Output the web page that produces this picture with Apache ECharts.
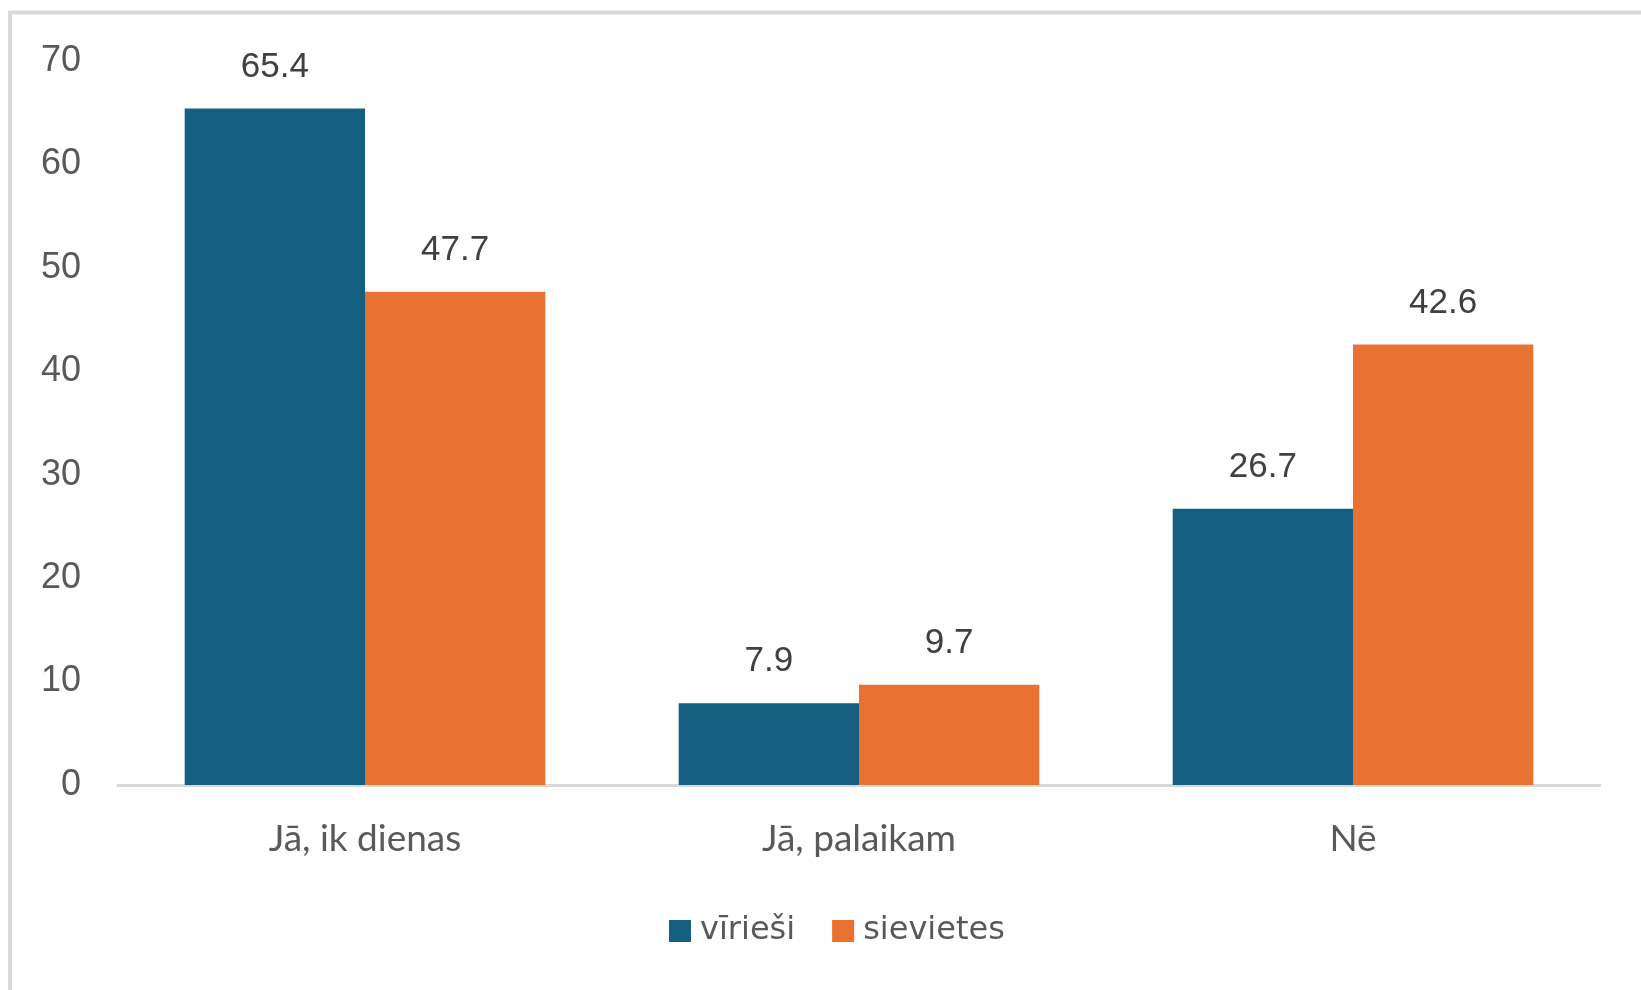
<!DOCTYPE html>
<html><head><meta charset="utf-8">
<script src="https://cdn.jsdelivr.net/npm/echarts@6/dist/echarts.min.js"></script>
<style>html,body{margin:0;padding:0;background:#fff}#c{width:1641px;height:990px}</style>
</head><body><div id="c"></div>
<script>
const categories = ['Jā, ik dienas', 'Jā, palaikam', 'Nē'];
const seriesNames = ['vīrieši', 'sievietes'];
const viriesi = [65.4, 7.9, 26.7];
const sievietes = [47.7, 9.7, 42.6];
const yTicks = [0, 10, 20, 30, 40, 50, 60, 70];

const chart = echarts.init(document.getElementById('c'), null, {renderer: 'canvas'});
const labelStyle = {show: true, position: 'top', distance: 24, color: '#404040', fontFamily: 'Liberation Sans', fontSize: 35, formatter: p => p.value.toFixed(1)};
chart.setOption({
  animation: false,
  backgroundColor: '#fff',
  graphic: [{type: 'rect', shape: {x: 10, y: 12.5, width: 1800, height: 1200}, style: {fill: 'none', stroke: '#d9d9d9', lineWidth: 4}, silent: true}],
  grid: {left: 118, right: 41, top: 61, bottom: 205},
  legend: {
    bottom: 38, left: 664, itemWidth: 22, itemHeight: 22, itemGap: 37,
    icon: 'rect',
    textStyle: {color: '#595959', fontFamily: 'DejaVu Sans', fontSize: 32, padding: [0, 0, 0, 4]},
    data: seriesNames
  },
  xAxis: {
    type: 'category', data: categories,
    axisLine: {lineStyle: {color: '#d9d9d9', width: 3}},
    axisTick: {show: false},
    axisLabel: {color: '#595959', fontFamily: 'Lato', fontSize: 37, margin: 36}
  },
  yAxis: {
    type: 'value', min: yTicks[0], max: yTicks[yTicks.length - 1], interval: 10,
    axisLine: {show: false}, axisTick: {show: false}, splitLine: {show: false},
    axisLabel: {color: '#595959', fontFamily: 'Liberation Sans', fontSize: 36, margin: 37}
  },
  series: [
    {name: seriesNames[0], type: 'bar', data: viriesi, itemStyle: {color: '#156082'}, barGap: '0%', barCategoryGap: '27%', label: labelStyle},
    {name: seriesNames[1], type: 'bar', data: sievietes, itemStyle: {color: '#E97132'}, barGap: '0%', barCategoryGap: '27%', label: labelStyle}
  ]
});
</script></body></html>
